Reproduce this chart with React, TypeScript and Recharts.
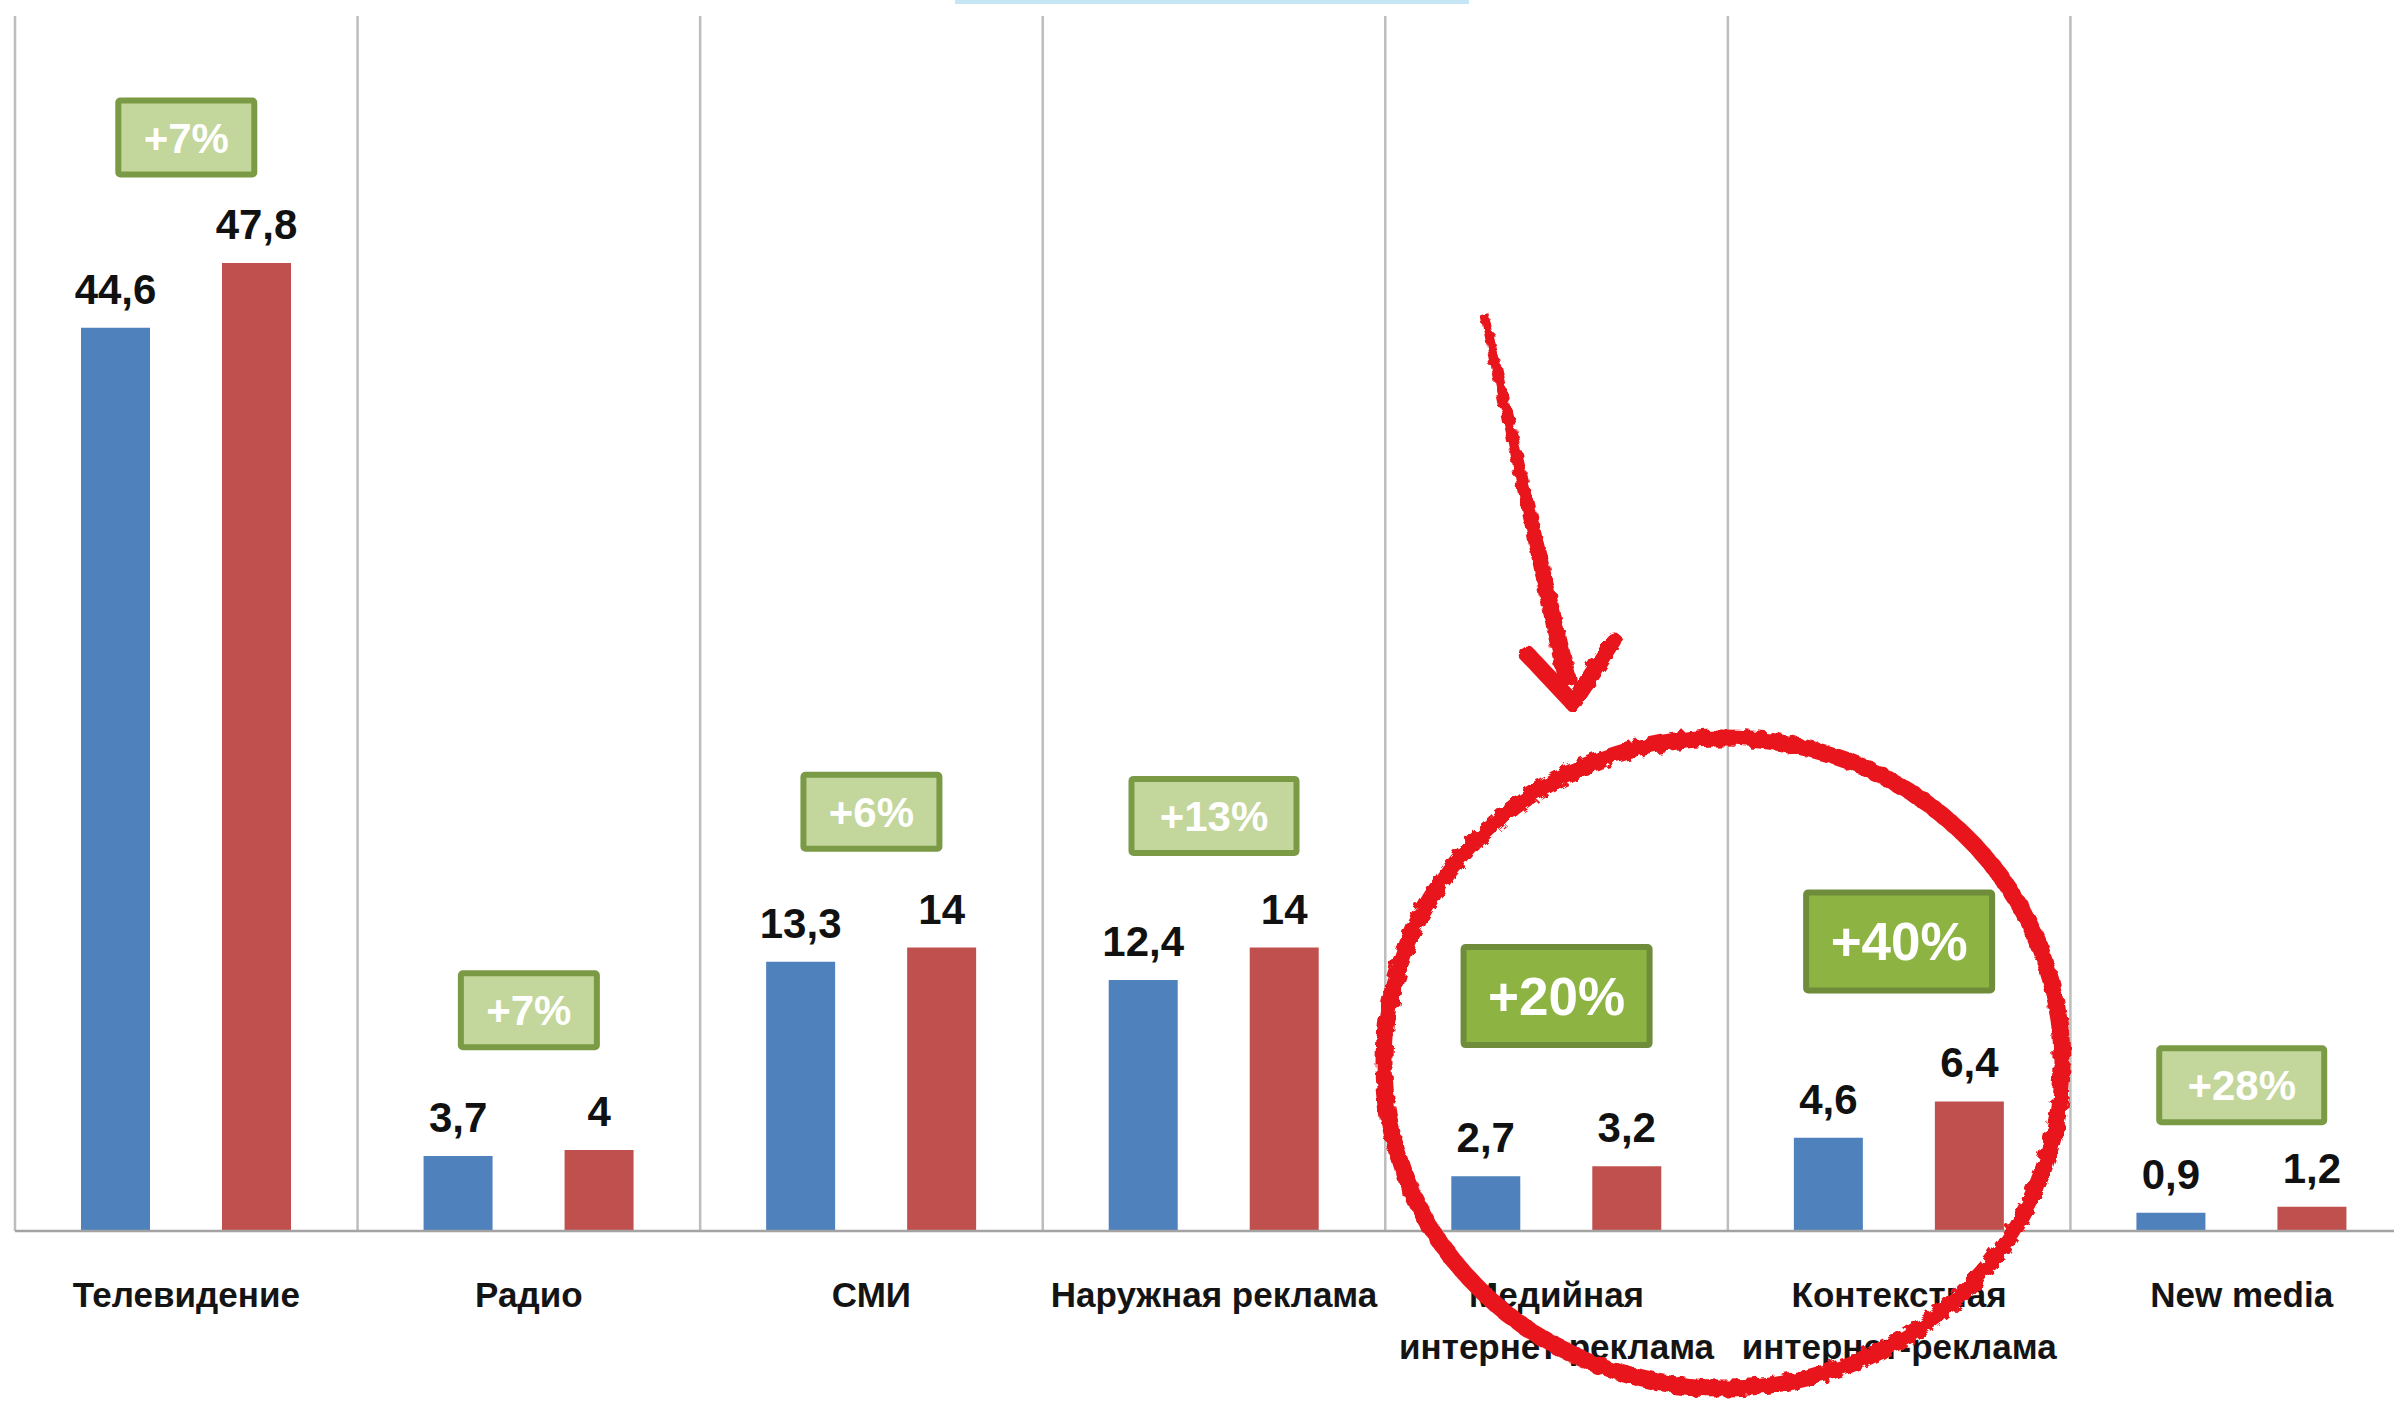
import React from 'react';
import { BarChart, Bar, XAxis, YAxis, LabelList, ReferenceLine, ReferenceDot } from 'recharts';

// categories and their two-line tick captions
const categories = [
  'Телевидение',
  'Радио',
  'СМИ',
  'Наружная реклама',
  'Медийная интернет-реклама',
  'Контекстная интернет-реклама',
  'New media',
];
const tickLines: string[][] = [
  ['Телевидение'],
  ['Радио'],
  ['СМИ'],
  ['Наружная реклама'],
  ['Медийная', 'интернет-реклама'],
  ['Контекстная', 'интернет-реклама'],
  ['New media'],
];

// series values
const prevYear = [44.6, 3.7, 13.3, 12.4, 2.7, 4.6, 0.9];
const nextYear = [47.8, 4, 14, 14, 3.2, 6.4, 1.2];

// growth badges: text, level in chart units, emphasis
const growth = ['+7%', '+7%', '+6%', '+13%', '+20%', '+40%', '+28%'];
const growthLevel = [54, 10.9, 20.7, 20.5, 11.6, 14.3, 7.2];
const highlighted = [false, false, false, false, true, true, false];

const yTicks = [0, 60];

const data = categories.map((name, i) => ({
  name,
  prev: prevYear[i],
  next: nextYear[i],
}));

const FONT = "'Liberation Sans', Arial, sans-serif";

const CategoryTick = (props: any) => {
  const { x, y, payload } = props;
  const lines = tickLines[payload.index] ?? [payload.value];
  return (
    <g transform={`translate(${x},${y})`}>
      {lines.map((l, i) => (
        <text
          key={i}
          x={0}
          y={76 + i * 52}
          textAnchor="middle"
          fontFamily={FONT}
          fontWeight={700}
          fontSize={35}
          fill="#141414"
        >
          {l}
        </text>
      ))}
    </g>
  );
};

const ValueLabel = (props: any) => {
  const vb = props.viewBox ?? props;
  const x = vb.x ?? props.x;
  const y = vb.y ?? props.y;
  const w = vb.width ?? props.width;
  return (
    <text
      x={x + w / 2}
      y={y - 24}
      textAnchor="middle"
      fontFamily={FONT}
      fontWeight={700}
      fontSize={42}
      fill="#111"
    >
      {String(props.value).replace('.', ',')}
    </text>
  );
};

const Badge = ({ cx, cy, text, big }: { cx: number; cy: number; text: string; big: boolean }) => {
  const w = big ? 192 : text.length > 3 ? 171 : 142;
  const h = big ? 104 : 80;
  const sw = 6;
  return (
    <g>
      <rect
        x={cx - w / 2 + sw / 2}
        y={cy - h / 2 + sw / 2}
        width={w - sw}
        height={h - sw}
        fill={big ? '#8DB443' : '#C3D69B'}
        stroke={big ? '#6F8C3A' : '#7A9A45'}
        strokeWidth={sw}
        rx={2}
      />
      <text
        x={cx}
        y={cy + (big ? 19 : 15)}
        textAnchor="middle"
        fontFamily={FONT}
        fontWeight={700}
        fontSize={big ? 53 : 42}
        fill="#FFFFFF"
      >
        {text}
      </text>
    </g>
  );
};

export default function App() {
  return (
    <div
      style={{
        position: 'absolute',
        left: 0,
        top: 0,
        width: 2394,
        height: 1407,
        overflow: 'hidden',
        background: '#FFFFFF',
      }}
    >
      <div
        style={{
          position: 'absolute',
          left: 955,
          top: 0,
          width: 514,
          height: 4,
          background: '#C6E6F6',
        }}
      />
      <BarChart
        width={2413}
        height={1407}
        data={data}
        margin={{ top: 16, right: 0, left: 15, bottom: 0 }}
        barGap={72}
      >
        <XAxis
          dataKey="name"
          height={176}
          interval={0}
          tickLine={false}
          tickSize={0}
          tickMargin={0}
          axisLine={{ stroke: '#A3A3A3', strokeWidth: 2.5 }}
          tick={<CategoryTick />}
        />
        <YAxis hide domain={[0, 60]} ticks={yTicks} />
        {categories.map((c) => (
          <ReferenceLine
            key={`g-${c}`}
            x={c}
            position="start"
            stroke="#BDBDBD"
            strokeWidth={2.5}
          />
        ))}
        <Bar dataKey="prev" fill="#4F81BD" barSize={69} isAnimationActive={false}>
          <LabelList dataKey="prev" content={<ValueLabel />} />
        </Bar>
        <Bar dataKey="next" fill="#C0504D" barSize={69} isAnimationActive={false}>
          <LabelList dataKey="next" content={<ValueLabel />} />
        </Bar>
        {categories.map((c, i) => (
          <ReferenceDot
            key={`b-${c}`}
            x={c}
            y={growthLevel[i]}
            r={1}
            ifOverflow="visible"
            shape={(p: any) => <Badge cx={p.cx} cy={p.cy} text={growth[i]} big={highlighted[i]} />}
          />
        ))}
      </BarChart>
      <svg
        width={2394}
        height={1407}
        style={{ position: 'absolute', left: 0, top: 0, pointerEvents: 'none' }}
      >
        <defs>
          <filter id="rough" x="-10%" y="-10%" width="120%" height="120%">
            <feTurbulence type="fractalNoise" baseFrequency="0.12" numOctaves="2" seed="4" />
            <feDisplacementMap in="SourceGraphic" scale="9" />
          </filter>
        </defs>
        <g filter="url(#rough)">
          <ellipse
            cx={1723}
            cy={1063}
            rx={339}
            ry={325}
            fill="none"
            stroke="#E8171C"
            strokeWidth={17}
          />
          <polygon
            points="1480,314 1488,312 1578,684 1559,688"
            fill="#E8171C"
          />
          <line x1={1527} y1={654} x2={1573} y2={703} stroke="#E8171C" strokeWidth={17} strokeLinecap="round" />
          <line x1={1614} y1={641} x2={1573} y2={703} stroke="#E8171C" strokeWidth={17} strokeLinecap="round" />
        </g>
      </svg>
    </div>
  );
}
